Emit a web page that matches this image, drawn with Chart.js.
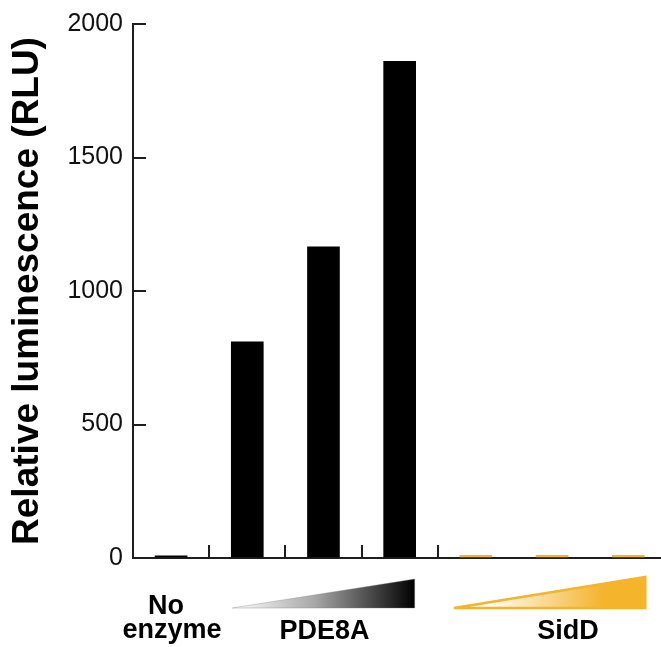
<!DOCTYPE html>
<html><head><meta charset="utf-8">
<script src="https://cdn.jsdelivr.net/npm/chart.js@4"></script>
<style>html,body{margin:0;padding:0;background:#fff;overflow:hidden}#wrap{width:661px;height:647px;position:relative}</style>
</head><body><div id="wrap"><canvas id="c" width="661" height="647"></canvas></div>
<script>
// ---- data ----
const categories = ['No enzyme', 'PDE8A low', 'PDE8A mid', 'PDE8A high', 'SidD low', 'SidD mid', 'SidD high'];
const enzyme = ['none', 'PDE8A', 'PDE8A', 'PDE8A', 'SidD', 'SidD', 'SidD'];
const luminescence = [8, 810, 1165, 1860, 10, 10, 10];
const yTickValues = [0, 500, 1000, 1500, 2000];
const groupTicks = [0.5, 1.5, 2.5, 3.5];
const yTitle = 'Relative luminescence (RLU)';
const groupNames = ['No enzyme', 'PDE8A', 'SidD'];

const ORANGE = '#F4B42C';
const AXIS = '#1e1e1e';

const groupPlugin = {
  id: 'groups',
  afterDraw(chart) {
    const ctx = chart.ctx, xs = chart.scales.x;
    ctx.save();
    // PDE8A gradient wedge
    let l = xs.getPixelForValue(1) - 15, r = xs.getPixelForValue(3) + 15;
    let g = ctx.createLinearGradient(l, 0, r, 0);
    g.addColorStop(0, '#ffffff');
    g.addColorStop(0.45, '#a8a8a8');
    g.addColorStop(1, '#000000');
    ctx.beginPath();
    ctx.moveTo(l, 608); ctx.lineTo(r, 579); ctx.lineTo(r, 608); ctx.closePath();
    ctx.fillStyle = g; ctx.fill();
    ctx.strokeStyle = 'rgba(120,120,120,0.35)'; ctx.lineWidth = 1; ctx.stroke();
    // SidD wedge
    l = xs.getPixelForValue(4) - 22; r = xs.getPixelForValue(6) + 17;
    g = ctx.createLinearGradient(l, 0, r, 0);
    g.addColorStop(0, '#ffffff');
    g.addColorStop(0.2, '#fffaf0');
    g.addColorStop(0.78, ORANGE);
    g.addColorStop(1, ORANGE);
    ctx.beginPath();
    ctx.moveTo(l, 608); ctx.lineTo(r, 577); ctx.lineTo(r, 608); ctx.closePath();
    ctx.fillStyle = g; ctx.fill();
    ctx.strokeStyle = ORANGE; ctx.lineWidth = 2.5; ctx.lineJoin = 'miter'; ctx.stroke();
    // labels
    ctx.fillStyle = '#000';
    ctx.font = 'bold 27px "Liberation Sans", Arial, sans-serif';
    ctx.textAlign = 'center'; ctx.textBaseline = 'alphabetic';
    const x0 = xs.getPixelForValue(0);
    const parts = groupNames[0].split(' ');
    ctx.fillText(parts[0], x0 - 5, 614);
    ctx.fillText(parts[1], x0 + 1, 638);
    ctx.fillText(groupNames[1], xs.getPixelForValue(2) + 1, 639);
    ctx.fillText(groupNames[2], xs.getPixelForValue(5) + 16, 639);
    ctx.restore();
  }
};

new Chart(document.getElementById('c'), {
  type: 'bar',
  data: {
    labels: categories,
    datasets: [{
      label: 'Relative luminescence',
      data: luminescence.map((v, i) => ({ x: i, y: v })),
      backgroundColor: c => enzyme[c.dataIndex] === 'SidD' ? ORANGE : '#000000',
      borderWidth: 0,
      barThickness: 32
    }]
  },
  options: {
    responsive: false,
    animation: false,
    devicePixelRatio: 1,
    layout: { padding: { left: 0, right: 0, top: 24, bottom: 89 } },
    plugins: { legend: { display: false }, tooltip: { enabled: false } },
    scales: {
      x: {
        type: 'linear',
        offset: false,
        min: -0.5,
        max: 6.43,
        afterBuildTicks: s => { s.ticks = groupTicks.map(v => ({ value: v })); },
        afterFit: s => { s.height = 0; s.paddingLeft = 0; s.paddingRight = 0; },
        ticks: { display: false },
        grid: { display: true, offset: false, drawOnChartArea: false, drawTicks: true, tickLength: -13, color: AXIS, lineWidth: 2 },
        border: { display: true, color: AXIS, width: 2 }
      },
      y: {
        min: 0,
        max: 2000,
        afterBuildTicks: s => { s.ticks = yTickValues.map(v => ({ value: v })); },
        afterFit: s => { s.width = 133; s.paddingTop = 0; s.paddingBottom = 0; },
        ticks: {
          padding: 23,
          color: '#111',
          font: { family: '"Liberation Sans", Arial, sans-serif', size: 25 },
          callback: v => String(v)
        },
        grid: { display: true, drawOnChartArea: false, drawTicks: true, tickLength: -13, color: AXIS, lineWidth: 2 },
        border: { display: true, color: AXIS, width: 2 },
        title: {
          display: true,
          text: yTitle,
          color: '#000',
          font: { family: '"Liberation Sans", Arial, sans-serif', size: 37, weight: 'bold', lineHeight: 1 },
          padding: { top: 9, bottom: 0 }
        }
      }
    }
  },
  plugins: [groupPlugin]
});
</script>
</body></html>
